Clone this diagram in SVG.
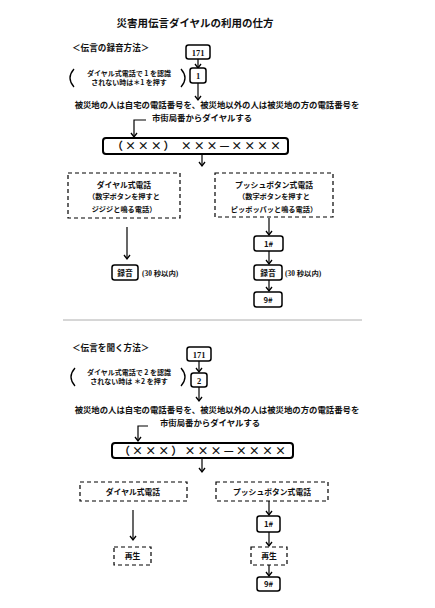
<svg xmlns="http://www.w3.org/2000/svg" width="435" height="608" viewBox="0 0 435 608">
<defs>
<marker id="ah" markerUnits="userSpaceOnUse" markerWidth="10" markerHeight="10" viewBox="-5 -5 10 10" refX="0" refY="0" orient="auto">
<path d="M-4,-3 L0,0 L-4,3" fill="none" stroke="#000" stroke-width="1.3"/>
</marker>
</defs>
<style>
text{font-family:"Noto Sans CJK JP","Noto Sans",sans-serif;fill:#111}
.t{font-size:10.5px;font-weight:700}
.h{font-size:8.6px;font-weight:700}
.b{font-size:8.4px;font-weight:700}
.s{font-size:7px;font-weight:700}
.m{font-size:7.2px;font-weight:700}
.d{font-size:7.8px;font-weight:700}
.n{font-family:"Liberation Serif","DejaVu Serif",serif;font-size:8.5px;font-weight:700}
.j{font-family:"Liberation Serif","Noto Sans CJK JP",serif;font-size:7.4px;font-weight:700}
.x{font-size:11px;font-weight:700}
.box{fill:#fff;stroke:#000;stroke-width:1.5}
.big{fill:#fff;stroke:#000;stroke-width:2}
.dash{fill:#fff;stroke:#000;stroke-width:1.2;stroke-dasharray:4 3}
.a{fill:none;stroke:#000;stroke-width:1.2;marker-end:url(#ah)}
.p{fill:none;stroke:#000;stroke-width:1.3}
</style>
<rect width="435" height="608" fill="#fff"/>

<text class="t" x="195" y="27" text-anchor="middle">災害用伝言ダイヤルの利用の仕方</text>

<g id="connectors">
<path class="a" d="M198,59 V68"/>
<path class="a" d="M198,83 V100"/>
<path class="a" d="M146,120 H134 V137"/>
<path class="a" d="M202,154 V166"/>
<path class="a" d="M127,227 V259"/>
<path class="a" d="M269,218 V235"/>
<path class="a" d="M269,251 V264"/>
<path class="a" d="M269,280 V291"/>
<line x1="63" y1="320" x2="362" y2="320" stroke="#999" stroke-width="0.8"/>
<path class="a" d="M199,361 V372"/>
<path class="a" d="M199,387 V401"/>
<path class="a" d="M148,426 H138 V441"/>
<path class="a" d="M202,458 V472"/>
<path class="a" d="M133,510 V540"/>
<path class="a" d="M269,501 V515"/>
<path class="a" d="M269,532 V546"/>
<path class="a" d="M269,565 V576"/>
</g>

<g id="header1"><text class="h" x="72" y="51">＜伝言の録音方法＞</text></g>
<g id="n171a"><rect class="box" x="186" y="45" width="24" height="14" rx="2.5"/><text class="n" x="198" y="55.5" text-anchor="middle">171</text></g>
<g id="note1">
<path class="p" d="M74,69 Q66,78 74,87"/>
<path class="p" d="M181,69 Q189,78 181,87"/>
<text class="s" x="129" y="76" text-anchor="middle">ダイヤル式電話で 1 を認識</text>
<text class="s" x="129" y="85" text-anchor="middle">されない時は＊1 を押す</text>
</g>
<g id="n1"><rect class="box" x="190" y="68" width="16" height="15" rx="2.5"/><text class="n" x="198" y="79" text-anchor="middle">1</text></g>
<g id="instr1">
<text class="b" x="217" y="108" text-anchor="middle">被災地の人は自宅の電話番号を、被災地以外の人は被災地の方の電話番号を</text>
<text class="b" x="152" y="121">市街局番からダイヤルする</text>
</g>
<g id="num1"><rect class="big" x="103" y="138" width="185" height="16" rx="3"/><text class="x" x="112" y="150" textLength="169" lengthAdjust="spacing">（×××） ×××—××××</text></g>
<g id="dial1"><rect class="dash" x="68" y="173" width="112" height="45"/>
<text class="d" x="124" y="188" text-anchor="middle">ダイヤル式電話</text>
<text class="m" x="124" y="199" text-anchor="middle">（数字ボタンを押すと</text>
<text class="m" x="124" y="212" text-anchor="middle">ジジジと鳴る電話）</text></g>
<g id="push1"><rect class="dash" x="215" y="173" width="118" height="44"/>
<text class="d" x="274" y="188" text-anchor="middle">プッシュボタン式電話</text>
<text class="m" x="274" y="199" text-anchor="middle">（数字ボタンを押すと</text>
<text class="m" x="274" y="212" text-anchor="middle">ピッポッパッと鳴る電話）</text></g>
<g id="rec1"><rect class="box" x="112" y="265" width="26" height="15" rx="2.5"/><text class="d" x="125" y="275.5" text-anchor="middle">録音</text><text class="j" x="142" y="276">(30 秒以内)</text></g>
<g id="h1a"><rect class="box" x="254" y="236" width="29" height="15" rx="2.5"/><text class="d" x="268.5" y="246.5" text-anchor="middle">1#</text></g>
<g id="rec2"><rect class="box" x="254" y="265" width="28" height="15" rx="2.5"/><text class="d" x="268" y="275.5" text-anchor="middle">録音</text><text class="j" x="285" y="276">(30 秒以内)</text></g>
<g id="h9a"><rect class="box" x="254" y="292" width="28" height="15" rx="2.5"/><text class="d" x="268" y="302.5" text-anchor="middle">9#</text></g>

<g id="header2"><text class="h" x="72" y="351">＜伝言を聞く方法＞</text></g>
<g id="n171b"><rect class="box" x="187" y="347" width="24" height="14" rx="2.5"/><text class="n" x="199" y="357.5" text-anchor="middle">171</text></g>
<g id="note2">
<path class="p" d="M75,368 Q67,377 75,386"/>
<path class="p" d="M181,368 Q189,377 181,386"/>
<text class="s" x="129" y="375" text-anchor="middle">ダイヤル式電話で 2 を認識</text>
<text class="s" x="129" y="384" text-anchor="middle">されない時は ＊2 を押す</text>
</g>
<g id="n2"><rect class="box" x="191" y="373" width="16" height="14" rx="2.5"/><text class="n" x="199" y="383.5" text-anchor="middle">2</text></g>
<g id="instr2">
<text class="b" x="217" y="413" text-anchor="middle">被災地の人は自宅の電話番号を、被災地以外の人は被災地の方の電話番号を</text>
<text class="b" x="160" y="426">市街局番からダイヤルする</text>
</g>
<g id="num2"><rect class="big" x="112" y="443" width="181" height="15" rx="3"/><text class="x" x="119" y="454.5" textLength="167" lengthAdjust="spacing">（×××）×××—××××</text></g>
<g id="dial2"><rect class="dash" x="80" y="482" width="107" height="19"/><text class="d" x="133" y="494.5" text-anchor="middle">ダイヤル式電話</text></g>
<g id="push2"><rect class="dash" x="216" y="482" width="112" height="19"/><text class="d" x="272" y="494.5" text-anchor="middle">プッシュボタン式電話</text></g>
<g id="play1"><rect class="dash" x="114" y="547" width="37" height="18"/><text class="d" x="132.5" y="559" text-anchor="middle">再生</text></g>
<g id="h1b"><rect class="box" x="257" y="516" width="23" height="16" rx="2.5"/><text class="d" x="268.5" y="527" text-anchor="middle">1#</text></g>
<g id="play2"><rect class="dash" x="251" y="547" width="36" height="18"/><text class="d" x="269" y="559" text-anchor="middle">再生</text></g>
<g id="h9b"><rect class="box" x="257" y="577" width="23" height="14" rx="2.5"/><text class="d" x="268.5" y="587" text-anchor="middle">9#</text></g>
</svg>
